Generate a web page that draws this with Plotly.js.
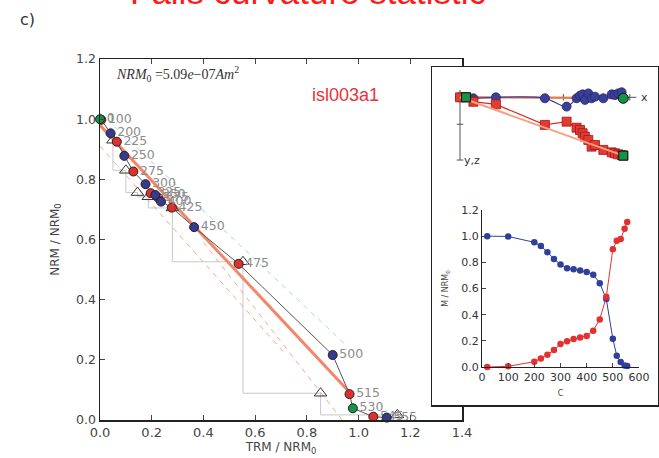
<!DOCTYPE html>
<html><head><meta charset="utf-8">
<script src="https://cdn.plot.ly/plotly-3.0.1.min.js"></script>
<style>html,body{margin:0;padding:0;background:#fff;}#chart{width:659px;height:458px;}</style>
</head><body><div id="chart"></div>
<script>
// ---------- data ----------
const stepLabels = ['0','100','200','225','250','275','300','325','350','375','400','425','450','475','500','515','530','545','555'];
const stepTemps  = [20,100,200,225,250,275,300,325,350,375,400,425,450,475,500,515,530,545,555];
const stepType   = ['IZ','ZI','IZ','ZI','IZ','ZI','IZ','ZI','IZ','ZI','IZ','ZI','IZ','ZI','IZ','ZI','IZ','ZI','IZ'];
const boundLabels = ['0','530'];
const nrmFrac  = [1.0,0.998,0.953,0.925,0.878,0.826,0.784,0.754,0.748,0.738,0.726,0.706,0.641,0.519,0.216,0.086,0.039,0.011,0.008];
const ptrmFrac = [0.0,0.005,0.041,0.065,0.094,0.129,0.176,0.196,0.214,0.226,0.236,0.278,0.364,0.536,0.900,0.965,0.978,1.057,1.109];
const checkX = [0.05,0.10,0.145,0.187,0.28,0.553,0.853,1.15];
const checkY = [0.93,0.83,0.756,0.742,0.705,0.526,0.089,0.017];
const fitIntercept = 0.98, fitSlope = -0.92, fitXEnd = 0.965;
const upperDashX = [0.0, 0.95], upperDashY = [1.02, 0.25];
const lowerDashAX = [0.0, 0.72], lowerDashAY = [0.91, 0.216];
const lowerDashBX = [0.40, 0.937], lowerDashBY = [0.59, 0.0];
const nrm0Text = '<i>NRM</i><sub>0</sub> =5.09<i>e</i>\u221207<i>Am</i><sup>2</sup>';
const specimen = 'isl003a1';
// Zijderveld inset (normalised units)
const zijX    = [0.037,0.0,0.082,0.22,0.52,0.653,0.714,0.735,0.751,0.765,0.786,0.806,0.827,0.878,0.929,0.949,0.969,0.99,1.0];
const zijHorz = [0.0,0.0,0.006,0.0,0.006,0.057,0.006,-0.01,-0.018,0.016,-0.024,0.006,-0.004,0.006,-0.018,-0.014,-0.024,-0.031,0.006];
const zijVert = [0.0,0.0,0.027,0.043,0.169,0.149,0.186,0.2,0.22,0.241,0.261,0.302,0.292,0.322,0.337,0.343,0.349,0.353,0.357];
const zijBound = [0, 18];
const zijHTicks = [0.2245, 0.633, 1.04];
const zijVTicks = [0.165, 0.384];

// ---------- helpers ----------
const W = 659, H = 458;
const px = v => v / W, py = v => 1 - v / H;
const BLUE = '#363b8f', RED = '#e0302c', GREEN = '#149447';
const FONT = 'DejaVu Sans, sans-serif';
const isBound = i => boundLabels.includes(stepLabels[i]);
const pick = (arr, f) => arr.filter((_, i) => f(i));

// check lines
const chkLX = [], chkLY = [];
for (let k = 1; k < checkX.length; k++) {
  chkLX.push(checkX[k-1], checkX[k-1], checkX[k], null);
  chkLY.push(checkY[k-1], checkY[k], checkY[k], null);
}

const traces = [];
traces.push({x: chkLX, y: chkLY, mode: 'lines', line: {color: '#c8c8c8', width: 1}, hoverinfo: 'skip', showlegend: false});
traces.push({x: upperDashX, y: upperDashY, mode: 'lines', line: {color: '#9fd8ef', width: 1, dash: '5px,5px'}, showlegend: false});
traces.push({x: lowerDashAX, y: lowerDashAY, mode: 'lines', line: {color: '#f6a58c', width: 1, dash: '5px,5px'}, showlegend: false});
traces.push({x: lowerDashBX, y: lowerDashBY, mode: 'lines', line: {color: '#f6a58c', width: 1, dash: '5px,5px'}, showlegend: false});
traces.push({x: [0, fitXEnd], y: [fitIntercept, fitIntercept + fitSlope * fitXEnd], mode: 'lines', line: {color: '#f2866a', width: 3}, showlegend: false});
traces.push({x: ptrmFrac, y: nrmFrac, mode: 'lines', line: {color: '#555', width: 1}, showlegend: false});
traces.push({x: checkX, y: checkY, mode: 'markers', marker: {symbol: 'triangle-up-open', size: 11, color: '#333', line: {width: 1}}, showlegend: false});
const groups = [
  {f: i => !isBound(i) && stepType[i] === 'ZI', c: RED},
  {f: i => !isBound(i) && stepType[i] === 'IZ', c: BLUE},
  {f: i => isBound(i), c: GREEN}
];
groups.forEach(g => {
  traces.push({x: pick(ptrmFrac, g.f), y: pick(nrmFrac, g.f), text: pick(stepLabels, g.f),
    mode: 'markers+text', textposition: 'middle right',
    textfont: {family: FONT, size: 12.5, color: '#8c8c8c'},
    marker: {color: g.c, size: 9, line: {color: '#222', width: 1}}, cliponaxis: false, showlegend: false});
});
// box subplot placeholder
traces.push({x: [], y: [], xaxis: 'x2', yaxis: 'y2', mode: 'markers', showlegend: false});
// Zijderveld
traces.push({x: [0, zijX[zijBound[1]]], y: [0, zijHorz[zijBound[1]]], xaxis: 'x3', yaxis: 'y3', mode: 'lines', line: {color: '#f07840', width: 2}, showlegend: false});
traces.push({x: zijX, y: zijHorz, xaxis: 'x3', yaxis: 'y3', mode: 'lines+markers', line: {color: '#3a3f9a', width: 1.2, shape: 'spline'}, marker: {color: '#3a3f9a', size: 9, line: {color: '#23276a', width: 0.8}}, showlegend: false});
traces.push({x: zijX, y: zijVert, xaxis: 'x3', yaxis: 'y3', mode: 'lines+markers', line: {color: '#e02828', width: 1.2}, marker: {symbol: 'square', color: '#e33a32', size: 9, line: {color: '#a01818', width: 0.8}}, showlegend: false});
traces.push({x: [0, zijX[zijBound[1]]], y: [0, zijVert[zijBound[1]]], xaxis: 'x3', yaxis: 'y3', mode: 'lines', line: {color: '#f6a080', width: 2}, showlegend: false});
traces.push({x: zijBound.map(i => zijX[i]), y: zijBound.map(i => zijVert[i]), xaxis: 'x3', yaxis: 'y3', mode: 'markers', marker: {symbol: 'square', color: GREEN, size: 9, line: {color: '#111', width: 1}}, showlegend: false});
traces.push({x: [zijX[zijBound[1]]], y: [zijHorz[zijBound[1]]], xaxis: 'x3', yaxis: 'y3', mode: 'markers', marker: {color: GREEN, size: 10, line: {color: '#111', width: 1}}, showlegend: false});
// demag / pTRM vs temperature
traces.push({x: stepTemps, y: nrmFrac, xaxis: 'x4', yaxis: 'y4', mode: 'lines+markers', line: {color: '#2f3f9e', width: 1}, marker: {color: '#2f3f9e', size: 6.5}, cliponaxis: false, showlegend: false});
traces.push({x: stepTemps, y: ptrmFrac, xaxis: 'x4', yaxis: 'y4', mode: 'lines+markers', line: {color: '#e33030', width: 1}, marker: {color: '#e33030', size: 6.5}, cliponaxis: false, showlegend: false});

const shapes = [];
shapes.push({type: 'line', xref: 'x3', yref: 'y3', x0: -0.02, x1: 1.08, y0: 0, y1: 0, line: {color: '#555', width: 1}, layer: 'below'});
shapes.push({type: 'line', xref: 'x3', yref: 'y3', x0: 0, x1: 0, y0: -0.045, y1: 0.384, line: {color: '#555', width: 1}, layer: 'below'});
zijHTicks.forEach(t => shapes.push({type: 'line', xref: 'x3', yref: 'y3', x0: t, x1: t, y0: -0.02, y1: 0.02, line: {color: '#555', width: 1}, layer: 'below'}));
zijVTicks.forEach(t => shapes.push({type: 'line', xref: 'x3', yref: 'y3', x0: -0.02, x1: 0.02, y0: t, y1: t, line: {color: '#555', width: 1}, layer: 'below'}));

const tickAx = {showgrid: false, zeroline: false, ticks: 'inside', ticklen: 5, tickcolor: '#444', showline: true, linecolor: '#222', linewidth: 1.5, tickfont: {family: FONT, size: 13, color: '#444'}};
const hidden = {showgrid: false, zeroline: false, showline: false, showticklabels: false, ticks: ''};

const layout = {
  width: W, height: H, margin: {l: 0, r: 0, t: 0, b: 0}, paper_bgcolor: '#fff', plot_bgcolor: '#fff', showlegend: false,
  xaxis: Object.assign({}, tickAx, {domain: [px(100), px(462)], range: [0, 1.4], dtick: 0.2, tickformat: '.1f', mirror: 'ticks', anchor: 'y',
    title: {text: 'TRM / NRM<sub>0</sub>', font: {family: FONT, size: 12, color: '#444'}, standoff: 0}}),
  yaxis: Object.assign({}, tickAx, {domain: [py(420), py(59)], range: [0, 1.2], dtick: 0.2, tickformat: '.1f', mirror: 'ticks', anchor: 'x',
    tickfont: {family: FONT, size: 12.5, color: '#444'},
    title: {text: 'NRM / NRM<sub>0</sub>', font: {family: FONT, size: 12, color: '#444'}, standoff: 14}}),
  xaxis2: Object.assign({}, hidden, {domain: [px(432), px(658)], range: [0, 1], anchor: 'y2', showline: true, mirror: true, linecolor: '#222', linewidth: 1.5}),
  yaxis2: Object.assign({}, hidden, {domain: [py(405), py(67)], range: [0, 1], anchor: 'x2', showline: true, mirror: true, linecolor: '#222', linewidth: 1.5}),
  xaxis3: Object.assign({}, hidden, {domain: [px(452), px(652)], range: [-0.049, 1.176], anchor: 'y3'}),
  yaxis3: Object.assign({}, hidden, {domain: [py(170), py(75)], range: [0.445, -0.1366], anchor: 'x3'}),
  xaxis4: {domain: [px(482), px(639)], range: [0, 600], dtick: 100, anchor: 'y4', showgrid: false, zeroline: false, ticks: 'inside', ticklen: 4, tickcolor: '#444',
    showline: true, linecolor: '#222', linewidth: 1, tickfont: {family: FONT, size: 11, color: '#333'},
    title: {text: 'C', font: {family: FONT, size: 8, color: '#444'}, standoff: 7}},
  yaxis4: {domain: [py(367), py(210)], range: [0, 1.2], dtick: 0.2, tickformat: '.1f', anchor: 'x4', showgrid: false, zeroline: false, ticks: 'inside', ticklen: 4, tickcolor: '#444',
    showline: true, linecolor: '#222', linewidth: 1, tickfont: {family: FONT, size: 11, color: '#333'},
    title: {text: 'M / NRM<sub>0</sub>', font: {family: FONT, size: 8, color: '#444'}, standoff: 11}},
  shapes: shapes,
  annotations: [
    {text: 'Fails curvature statistic', xref: 'paper', yref: 'paper', x: px(308), y: py(13), xanchor: 'center', yanchor: 'bottom', showarrow: false,
      font: {family: 'Liberation Sans, Arial, sans-serif', size: 35, color: '#ff1a1a'}},
    {text: 'c)', xref: 'paper', yref: 'paper', x: px(27), y: py(20), xanchor: 'center', yanchor: 'middle', showarrow: false,
      font: {family: FONT, size: 16, color: '#333'}},
    {text: nrm0Text, xref: 'paper', yref: 'paper', x: px(114), y: py(74), xanchor: 'left', yanchor: 'middle', showarrow: false,
      font: {family: 'Liberation Serif, serif', size: 14, color: '#333'}},
    {text: specimen, xref: 'paper', yref: 'paper', x: px(345), y: py(95), xanchor: 'center', yanchor: 'middle', showarrow: false,
      font: {family: 'Liberation Sans, Arial, sans-serif', size: 18, color: '#e8333c'}},
    {text: 'x', xref: 'x3', yref: 'y3', x: 1.08, y: 0, xanchor: 'left', yanchor: 'middle', xshift: 3, showarrow: false,
      font: {family: FONT, size: 11, color: '#333'}},
    {text: 'y,z', xref: 'x3', yref: 'y3', x: 0, y: 0.384, xanchor: 'left', yanchor: 'middle', xshift: 2, showarrow: false,
      font: {family: FONT, size: 11, color: '#333'}}
  ]
};
Plotly.newPlot('chart', traces, layout, {displayModeBar: false, staticPlot: true});
</script></body></html>
